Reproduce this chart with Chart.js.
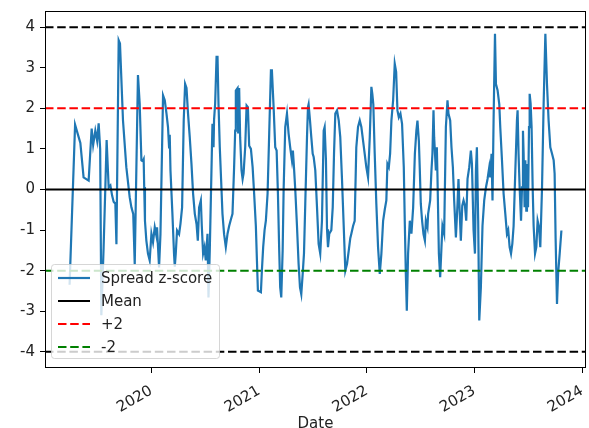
<!DOCTYPE html>
<html>
<head>
<meta charset="utf-8">
<script src="https://cdn.jsdelivr.net/npm/chart.js@4.4.1/dist/chart.umd.min.js"></script>
<style>
  html, body { margin: 0; padding: 0; background: #fff; }
</style>
</head>
<body>
<canvas id="canvas" width="589" height="428"></canvas>
<script>
// spread z-score, dates as decimal years
let dates = [
  2019.240, 2019.291, 2019.340, 2019.370, 2019.417, 2019.433, 2019.445, 2019.459, 2019.479, 2019.496,
  2019.510, 2019.524, 2019.535, 2019.556, 2019.572, 2019.584, 2019.603, 2019.619, 2019.635, 2019.649,
  2019.665, 2019.675, 2019.696, 2019.708, 2019.736, 2019.767, 2019.798, 2019.814, 2019.831, 2019.845,
  2019.875, 2019.891, 2019.907, 2019.919, 2019.928, 2019.933, 2019.940, 2019.953, 2019.968, 2019.984,
  2020.000, 2020.015, 2020.031, 2020.047, 2020.052, 2020.071, 2020.084, 2020.108, 2020.124, 2020.140,
  2020.154, 2020.164, 2020.170, 2020.177, 2020.195, 2020.210, 2020.217, 2020.226, 2020.238, 2020.257,
  2020.270, 2020.285, 2020.300, 2020.313, 2020.326, 2020.340, 2020.356, 2020.372, 2020.387, 2020.403,
  2020.419, 2020.431, 2020.443, 2020.459, 2020.468, 2020.480, 2020.493, 2020.505, 2020.521, 2020.530,
  2020.542, 2020.561, 2020.567, 2020.577, 2020.582, 2020.592, 2020.605, 2020.614, 2020.623, 2020.635,
  2020.647, 2020.660, 2020.675, 2020.691, 2020.707, 2020.722, 2020.738, 2020.753, 2020.768, 2020.778,
  2020.784, 2020.800, 2020.806, 2020.815, 2020.824, 2020.837, 2020.847, 2020.856, 2020.871, 2020.884,
  2020.896, 2020.908, 2020.924, 2020.940, 2020.954, 2020.970, 2020.980, 2020.989, 2021.017, 2021.026,
  2021.038, 2021.051, 2021.063, 2021.079, 2021.094, 2021.110, 2021.119, 2021.135, 2021.150, 2021.163,
  2021.175, 2021.187, 2021.196, 2021.206, 2021.219, 2021.228, 2021.243, 2021.259, 2021.274, 2021.289,
  2021.305, 2021.314, 2021.324, 2021.336, 2021.352, 2021.367, 2021.380, 2021.392, 2021.405, 2021.417,
  2021.429, 2021.445, 2021.454, 2021.460, 2021.473, 2021.485, 2021.498, 2021.507, 2021.522, 2021.538,
  2021.553, 2021.568, 2021.584, 2021.600, 2021.609, 2021.621, 2021.631, 2021.640, 2021.652, 2021.671,
  2021.684, 2021.696, 2021.708, 2021.724, 2021.740, 2021.754, 2021.770, 2021.786, 2021.801, 2021.817,
  2021.833, 2021.847, 2021.857, 2021.873, 2021.888, 2021.903, 2021.919, 2021.935, 2021.950, 2021.966,
  2021.981, 2021.996, 2022.012, 2022.028, 2022.043, 2022.052, 2022.061, 2022.074, 2022.089, 2022.105,
  2022.121, 2022.136, 2022.152, 2022.167, 2022.182, 2022.192, 2022.205, 2022.217, 2022.229, 2022.245,
  2022.260, 2022.273, 2022.285, 2022.298, 2022.313, 2022.328, 2022.344, 2022.353, 2022.363, 2022.372,
  2022.384, 2022.400, 2022.415, 2022.431, 2022.447, 2022.461, 2022.471, 2022.484, 2022.493, 2022.502,
  2022.514, 2022.527, 2022.540, 2022.549, 2022.564, 2022.570, 2022.589, 2022.601, 2022.610, 2022.620,
  2022.626, 2022.642, 2022.651, 2022.657, 2022.670, 2022.682, 2022.694, 2022.703, 2022.719, 2022.735,
  2022.750, 2022.759, 2022.775, 2022.787, 2022.800, 2022.812, 2022.828, 2022.843, 2022.852, 2022.861,
  2022.874, 2022.887, 2022.899, 2022.912, 2022.924, 2022.936, 2022.952, 2022.967, 2022.977, 2022.992,
  2023.005, 2023.014, 2023.023, 2023.035, 2023.045, 2023.060, 2023.075, 2023.091, 2023.107, 2023.122,
  2023.138, 2023.147, 2023.159, 2023.168, 2023.178, 2023.191, 2023.200, 2023.215, 2023.231, 2023.240,
  2023.256, 2023.271, 2023.287, 2023.302, 2023.314, 2023.327, 2023.340, 2023.352, 2023.364, 2023.380,
  2023.395, 2023.401, 2023.410, 2023.420, 2023.433, 2023.442, 2023.451, 2023.457, 2023.466, 2023.473,
  2023.482, 2023.488, 2023.498, 2023.507, 2023.513, 2023.522, 2023.531, 2023.541, 2023.550, 2023.563,
  2023.575, 2023.587, 2023.600, 2023.612, 2023.628, 2023.643, 2023.659, 2023.674, 2023.689, 2023.705,
  2023.721, 2023.736, 2023.745, 2023.754, 2023.767, 2023.777, 2023.792, 2023.808
];

let zscore = [
  -2.35, 1.60, 1.15, 0.30, 0.22, 0.96, 1.50, 1.10, 1.45, 1.20,
  1.63, 1.00, -3.10, -1.43, 0.05, 1.22, 0.05, 0.10, -0.15, -0.30,
  -0.35, -1.35, 3.68, 3.60, 1.70, 0.55, -0.19, -0.44, -0.60, -1.85,
  2.82, 2.12, 0.72, 0.70, 0.75, 0.06, -0.77, -1.26, -1.58, -1.75,
  -1.09, -1.30, -0.93, -1.15, -0.93, -1.92, -1.10, 2.32, 2.20, 1.87,
  1.54, 1.04, 1.35, 0.47, -0.60, -1.58, -1.90, -1.58, -1.01, -1.10,
  -0.84, -0.44, 1.70, 2.60, 2.50, 1.87, 1.29, 0.63, -0.10, -0.60,
  -0.85, -1.26, -0.44, -0.27, -0.90, -1.58, -1.42, -1.75, -1.09, -2.66,
  -1.50, 0.88, 1.62, 1.04, 1.73, 2.12, 3.27, 3.27, 2.12, 1.04,
  0.26, -0.60, -1.10, -1.42, -1.09, -0.90, -0.74, -0.60, 0.55, 1.45,
  2.44, 2.50, 1.38, 2.50, 1.29, 0.47, 0.26, 0.40, 1.04, 2.07,
  2.03, 1.08, 1.00, 0.55, -0.10, -0.90, -1.75, -2.49, -2.53, -2.00,
  -1.42, -1.00, -0.77, -0.10, 1.38, 2.94, 2.94, 2.03, 1.04, 0.96,
  -0.10, -1.50, -2.41, -2.66, -1.50, 0.00, 1.54, 1.87, 1.38, 1.04,
  0.72, 0.96, 0.55, 0.00, -0.90, -1.83, -2.41, -2.58, -2.08, -1.58,
  -0.35, 1.29, 2.03, 2.10, 1.70, 1.29, 0.88, 0.80, 0.47, -0.44,
  -1.34, -1.58, -0.77, 1.45, 1.54, 0.72, -0.98, -1.42, -1.09, -1.00,
  -0.44, 0.88, 1.87, 1.95, 1.70, 1.29, 0.26, -0.90, -2.00, -1.83,
  -1.50, -1.20, -1.09, -0.90, -0.77, 1.04, 1.54, 1.70, 1.54, 1.20,
  0.88, 0.55, 0.30, 1.29, 2.53, 2.35, 2.10, 0.88, -0.35, -1.42,
  -2.08, -1.58, -0.77, -0.50, -0.27, 0.63, 0.55, 0.88, 1.70, 2.20,
  3.10, 2.90, 1.95, 1.78, 1.87, 1.62, 0.55, -0.77, -2.08, -2.99,
  -1.58, -0.77, -1.09, -0.44, 0.88, 1.45, 1.70, 1.20, 0.47, -0.35,
  -0.77, -1.10, -1.26, -0.77, -0.93, -0.60, -0.27, 0.47, 0.88, 1.95,
  1.29, 0.47, 1.04, 0.30, -1.58, -2.16, -1.42, -0.90, -1.09, 1.54,
  2.20, 1.87, 1.70, 1.04, 0.55, -0.27, -1.18, -0.35, 0.26, -0.40,
  -1.26, -0.40, -0.27, -0.40, -0.77, 0.26, 0.55, 0.96, 0.63, -1.00,
  -1.58, 0.47, 1.04, -0.77, -3.23, -2.41, -0.90, -0.27, 0.05, 0.26,
  0.55, 0.30, 0.88, -0.27, 1.70, 3.84, 2.60, 2.45, 2.10, 1.54,
  0.72, -0.10, -0.60, -1.09, -1.00, -1.42, -1.58, -1.34, -0.90, 0.47,
  1.70, 1.95, 0.88, 0.05, -0.77, 0.05, 1.45, 0.88, -0.44, 0.72,
  -0.52, 0.63, -0.44, 1.54, 2.36, 2.12, 1.54, 0.05, -0.90, -1.58,
  -1.42, -0.77, -0.93, -1.42, 0.05, 2.12, 3.84, 2.60, 1.70, 1.04,
  0.88, 0.72, 0.39, -1.18, -2.82, -2.08, -1.58, -1.01
];

let yearTicks = [2020, 2021, 2022, 2023, 2024];
let valueTicks = [-4, -3, -2, -1, 0, 1, 2, 3, 4];

// reference levels
let mean = 0;
let upper = 2;
let lower = -2;
let outer = 4;

// matplotlib style 5% margins
let xSpan = dates[dates.length - 1] - dates[0];
let xMin = dates[0] - 0.05 * xSpan;
let xMax = dates[dates.length - 1] + 0.05 * xSpan;
let yMin = -outer - 0.05 * (2 * outer);
let yMax = outer + 0.05 * (2 * outer);

function hline(level) {
  return [{ x: xMin, y: level }, { x: xMax, y: level }];
}

let dash = [8.5, 3.7];
let blue = '#1f77b4';
let fontFamily = "'DejaVu Sans', sans-serif";

Chart.defaults.font.family = fontFamily;
Chart.defaults.font.size = 15;
Chart.defaults.color = '#222';

// plot frame on all four sides
let framePlugin = {
  id: 'frame',
  afterDraw(chart) {
    let a = chart.chartArea, ctx = chart.ctx;
    ctx.save();
    ctx.strokeStyle = '#000';
    ctx.lineWidth = 1;
    ctx.strokeRect(Math.round(a.left) + 0.5, Math.round(a.top) + 0.5,
                   Math.round(a.right - a.left) - 1, Math.round(a.bottom - a.top) - 1);
    ctx.restore();
  }
};

// matplotlib-like legend box, lower left
let legendPlugin = {
  id: 'mplLegend',
  afterDraw(chart) {
    let ctx = chart.ctx;
    let box = { x: 51, y: 264, w: 168, h: 94 };
    ctx.save();
    ctx.beginPath();
    ctx.roundRect(box.x + 0.5, box.y + 0.5, box.w, box.h, 3);
    ctx.fillStyle = 'rgba(255,255,255,0.8)';
    ctx.fill();
    ctx.strokeStyle = 'rgba(204,204,204,0.8)';
    ctx.lineWidth = 1;
    ctx.stroke();

    let items = chart.data.datasets.filter(d => d.label);
    ctx.font = '15px ' + fontFamily;
    ctx.textBaseline = 'middle';
    items.forEach((d, i) => {
      let y = box.y + 14 + i * 23;
      ctx.beginPath();
      ctx.setLineDash(d.borderDash || []);
      ctx.strokeStyle = d.borderColor;
      ctx.lineWidth = d.borderWidth;
      ctx.moveTo(box.x + 7, y);
      ctx.lineTo(box.x + 39, y);
      ctx.stroke();
      ctx.setLineDash([]);
      ctx.fillStyle = '#222';
      ctx.fillText(d.label, box.x + 50, y + 1);
    });
    ctx.restore();
  }
};

let options = {
  type: 'line',
  data: {
    datasets: [
      {
        label: 'Spread z-score',
        data: dates.map((d, i) => ({ x: d, y: zscore[i] })),
        borderColor: blue,
        borderWidth: 2.2,
        pointRadius: 0,
        tension: 0,
        order: 1
      },
      { label: 'Mean', data: hline(mean), borderColor: '#000', borderWidth: 2, pointRadius: 0, order: 0 },
      { label: '+2', data: hline(upper), borderColor: '#ff0000', borderWidth: 2, borderDash: dash, pointRadius: 0, order: 0 },
      { label: '-2', data: hline(lower), borderColor: '#008000', borderWidth: 2, borderDash: dash, pointRadius: 0, order: 0 },
      { label: '', data: hline(outer), borderColor: '#000', borderWidth: 2, borderDash: dash, pointRadius: 0, order: 0 },
      { label: '', data: hline(-outer), borderColor: '#000', borderWidth: 2, borderDash: dash, pointRadius: 0, order: 0 }
    ]
  },
  options: {
    responsive: false,
    animation: false,
    layout: { padding: { top: 11, right: 3, left: 0, bottom: 0 } },
    plugins: {
      legend: { display: false },
      tooltip: { enabled: false }
    },
    scales: {
      x: {
        type: 'linear',
        min: xMin,
        max: xMax,
        border: { display: false },
        grid: { drawOnChartArea: false, drawTicks: true, tickLength: 5, color: '#000' },
        afterBuildTicks: s => { s.ticks = yearTicks.map(v => ({ value: v })); },
        afterFit: s => { s.height = 60; s.paddingLeft = 0; s.paddingRight = 0; },
        ticks: {
          autoSkip: false,
          minRotation: 30,
          maxRotation: 30,
          padding: 9,
          callback: v => String(v)
        },
        title: { display: true, text: 'Date', padding: { top: 0, bottom: -5 } }
      },
      y: {
        min: yMin,
        max: yMax,
        border: { display: false },
        grid: { drawOnChartArea: false, drawTicks: true, tickLength: 5, color: '#000' },
        afterBuildTicks: s => { s.ticks = valueTicks.map(v => ({ value: v })); },
        afterFit: s => { s.width = 45; s.paddingTop = 0; s.paddingBottom = 0; },
        ticks: {
          padding: 5,
          callback: v => String(v)
        }
      }
    }
  },
  plugins: [framePlugin, legendPlugin]
};

let chart = new Chart(document.getElementById('canvas'), options);
</script>
</body>
</html>
